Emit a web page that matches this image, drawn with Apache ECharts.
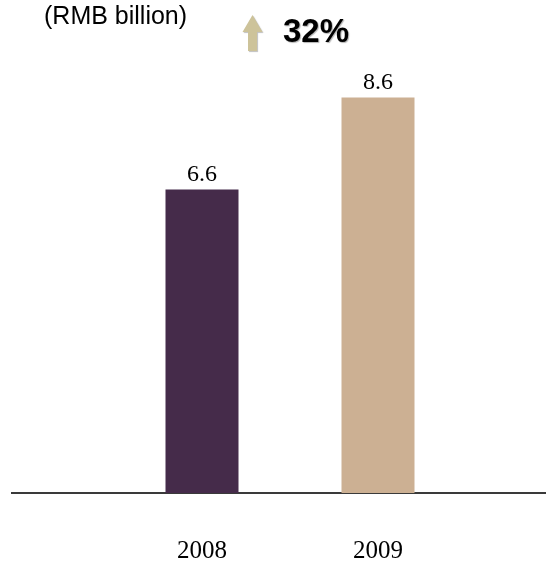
<!DOCTYPE html>
<html>
<head>
<meta charset="utf-8">
<script src="https://cdn.jsdelivr.net/npm/echarts@6/dist/echarts.min.js"></script>
<style>
  html, body { margin: 0; padding: 0; background: #ffffff; }
  #chart { width: 546px; height: 561px; }
</style>
</head>
<body>
<div id="chart"></div>
<script>
// Revenue by year (RMB billion)
const years = ['2008', '2009'];
const revenue = [6.6, 8.6];
const barColors = ['#452b4a', '#ccb093'];
const unitLabel = '(RMB billion)';
const growthLabel = '32%';

const chart = echarts.init(document.getElementById('chart'));

chart.setOption({
  animation: false,
  grid: { left: 114, right: 80, top: 33, bottom: 68, outerBoundsMode: 'none', containLabel: false },
  xAxis: {
    type: 'category',
    data: years,
    axisLine: { show: false },
    axisTick: { show: false },
    axisLabel: {
      margin: 46,
      fontFamily: 'Liberation Serif',
      fontSize: 25,
      color: '#000000'
    }
  },
  yAxis: {
    type: 'value',
    min: 0,
    max: 10,
    show: false,
    splitLine: { show: false }
  },
  series: [{
    type: 'bar',
    barWidth: 73,
    data: revenue.map((v, i) => ({ value: v, itemStyle: { color: barColors[i] } })),
    label: {
      show: true,
      position: 'top',
      distance: 3,
      fontFamily: 'Liberation Serif',
      fontSize: 24,
      color: '#000000',
      formatter: p => p.value.toFixed(1)
    }
  }],
  graphic: [
    // baseline across the full width
    {
      type: 'line',
      shape: { x1: 11, y1: 493, x2: 546, y2: 493 },
      style: { stroke: '#3a3a3a', lineWidth: 2 }
    },
    {
      type: 'text',
      x: 44,
      y: 17,
      style: {
        text: unitLabel,
        fontFamily: 'Liberation Sans',
        fontSize: 25,
        fill: '#000000',
        verticalAlign: 'middle'
      }
    },
    // growth arrow
    {
      type: 'polygon',
      shape: {
        points: [[252.5, 15], [262.5, 32], [257, 32], [257, 51], [248, 51], [248, 32], [242.5, 32]]
      },
      style: { fill: '#cdc39a', shadowColor: 'rgba(0,0,0,0.25)', shadowOffsetX: 1, shadowOffsetY: 1, shadowBlur: 1 }
    },
    {
      type: 'text',
      x: 283,
      y: 33,
      style: {
        text: growthLabel,
        fontFamily: 'Liberation Sans',
        fontWeight: 'bold',
        fontSize: 33,
        fill: '#000000',
        verticalAlign: 'middle',
        textShadowColor: 'rgba(0,0,0,0.3)',
        textShadowOffsetX: 1,
        textShadowOffsetY: 1,
        textShadowBlur: 1
      }
    }
  ]
});
</script>
</body>
</html>
